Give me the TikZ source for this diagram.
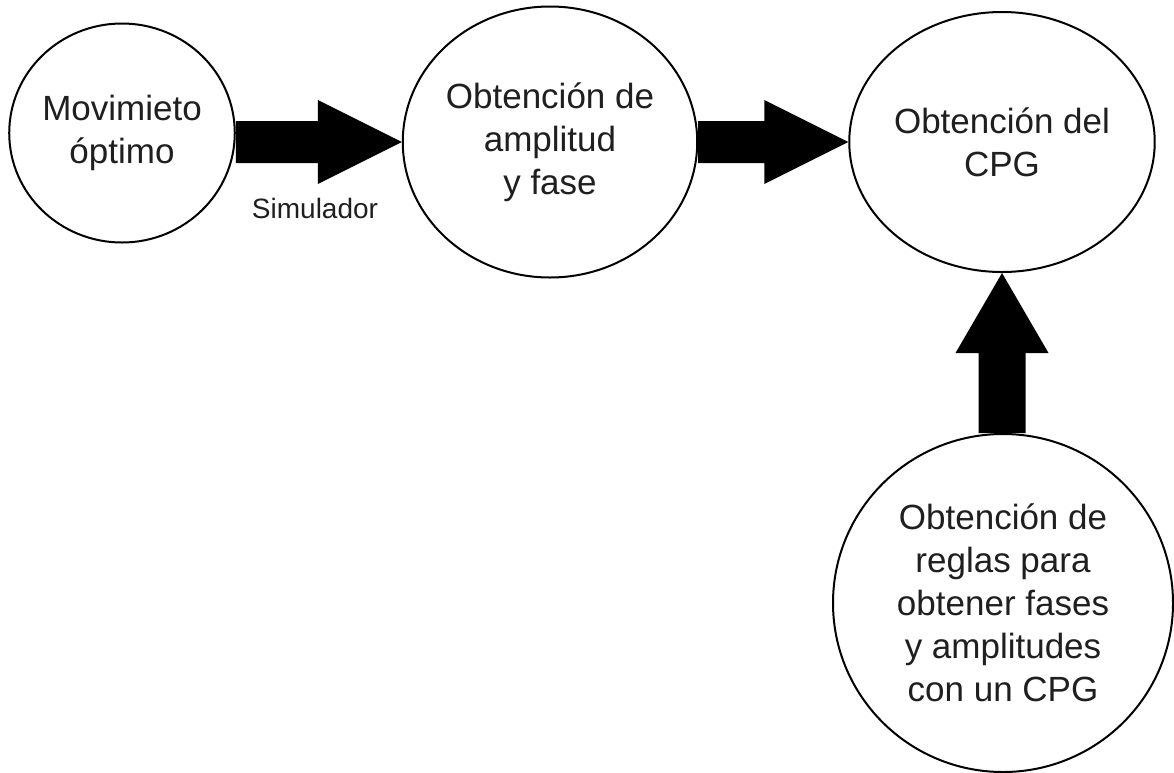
\documentclass[tikz,border=0pt]{standalone}
\usepackage{fontspec}
\setmainfont{Liberation Sans}
\usetikzlibrary{shapes.geometric,calc}
\begin{document}
\begin{tikzpicture}[x=1pt,y=-1pt,
  stage/.style={ellipse,draw=black,line width=2pt,fill=white,inner sep=0pt,
    align=center,text=black!88,font=\fontsize{35}{43}\selectfont},
  blockarrow/.style={fill=black},
  note/.style={text=black!88,font=\fontsize{28}{34}\selectfont}]
\useasboundingbox (0,0) rectangle (1174,772);

% process stages
\node[stage,minimum width=223pt,minimum height=219pt] (mov) at (122,133) {Movimieto\\óptimo};
\node[stage,minimum width=290pt,minimum height=271pt] (amp) at (550,142) {Obtención de\\amplitud\\y fase};
\node[stage,minimum width=264pt,minimum height=260pt] (cpg) at (1002,142) {Obtención del\\CPG};
\node[stage,minimum width=340pt,minimum height=338pt] (reg) at (1003,603) {Obtención de\\reglas para\\obtener fases\\y amplitudes\\con un CPG};

% block arrows between the stages
\fill[blockarrow] ($(mov.east |- amp.west)+(0,-21)$) -- ($(amp.west)+(-84,-21)$)
  -- ($(amp.west)+(-84,-42)$) -- (amp.west) -- ($(amp.west)+(-84,42)$)
  -- ($(amp.west)+(-84,21)$) -- ($(mov.east |- amp.west)+(0,21)$) -- cycle;
\fill[blockarrow] ($(amp.east |- cpg.west)+(0,-21)$) -- ($(cpg.west)+(-84,-21)$)
  -- ($(cpg.west)+(-84,-42)$) -- (cpg.west) -- ($(cpg.west)+(-84,42)$)
  -- ($(cpg.west)+(-84,21)$) -- ($(amp.east |- cpg.west)+(0,21)$) -- cycle;
\fill[blockarrow] ($(cpg.south |- reg.north)+(-23.5,0)$) -- ($(cpg.south)+(-23.5,80)$)
  -- ($(cpg.south)+(-46.5,80)$) -- (cpg.south) -- ($(cpg.south)+(46.5,80)$)
  -- ($(cpg.south)+(23.5,80)$) -- ($(cpg.south |- reg.north)+(23.5,0)$) -- cycle;

\node[note] (sim) at (315,208) {Simulador};
\end{tikzpicture}
\end{document}
